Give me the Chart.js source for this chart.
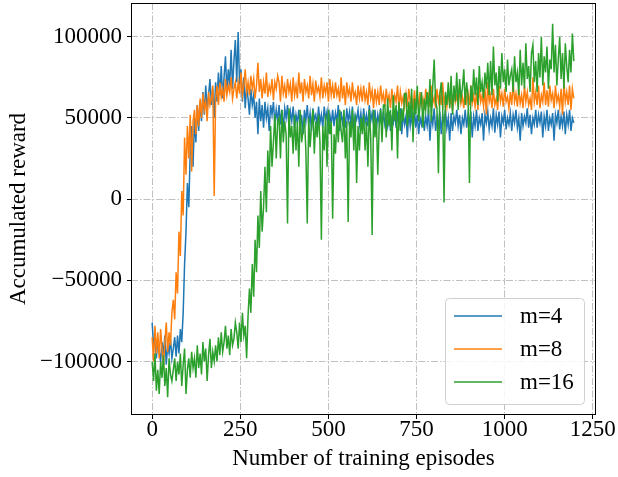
<!DOCTYPE html>
<html>
<head>
<meta charset="utf-8">
<script src="https://cdn.jsdelivr.net/npm/chart.js@4"></script>
<style>
  html, body { margin: 0; padding: 0; background: #fff; }
</style>
</head>
<body>
<canvas id="rewardChart" width="618" height="477"></canvas>
<script>
// Training curves - accumulated reward per episode (in thousands)

// x positions: one reading every 4 episodes
const episodes = Array.from({ length: 300 }, (_, i) => i * 4);

const rewardM4 = [
  -76, -90, -84, -98, -86, -94, -100, -88, -96, -84, -102, -90, -95, -86, -98,
  -92, -85, -97, -84, -95, -80, -88, -70, -40, -20, 10, -5, 30, 45, 20,
  50, 35, 58, 42, 60, 48, 66, 52, 70, 55, 64, 74, 58, 68, 50,
  72, 60, 78, 64, 82, 62, 75, 88, 66, 80, 70, 92, 68, 85, 98,
  72, 103, 70, 80, 60, 75, 56, 70, 62, 52, 68, 58, 64, 50, 60,
  40, 62, 48, 58, 44, 60, 50, 56, 42, 58, 52, 60, 46, 55, 48,
  58, 46, 55, 42, 56, 50, 58, 45, 54, 48, 57, 44, 52, 47, 55,
  44, 52, 40, 55, 48, 58, 46, 53, 42, 56, 49, 52, 45, 57, 47,
  52, 44, 57, 49, 54, 41, 52, 46, 55, 45, 53, 48, 58, 42, 54,
  47, 52, 44, 56, 48, 54, 45, 57, 43, 52, 49, 55, 46, 53, 44,
  56, 47, 52, 45, 58, 48, 53, 46, 55, 43, 52, 47, 56, 44, 54,
  46, 51, 45, 54, 42, 50, 47, 55, 44, 52, 46, 56, 40, 53, 46,
  51, 38, 54, 45, 52, 43, 55, 44, 52, 40, 50, 46, 54, 42, 51,
  45, 55, 36, 52, 46, 56, 42, 50, 45, 54, 40, 52, 47, 55, 44,
  50, 36, 53, 42, 51, 47, 55, 45, 52, 40, 50, 46, 55, 44, 52,
  47, 54, 38, 51, 45, 55, 42, 50, 46, 53, 36, 52, 47, 54, 43,
  50, 45, 56, 41, 52, 46, 54, 38, 51, 47, 55, 43, 50, 46, 53,
  42, 52, 47, 55, 44, 50, 36, 53, 45, 51, 47, 56, 44, 52, 40,
  50, 46, 55, 44, 52, 47, 54, 38, 51, 45, 55, 42, 50, 46, 53,
  36, 52, 47, 55, 43, 51, 45, 54, 40, 52, 46, 55, 42, 50, 47
];

const rewardM8 = [
  -85, -100, -78, -95, -82, -98, -80, -92, -104, -88, -76, -94, -82, -90, -70,
  -62, -74, -45, -58, -20, -35, 5, -10, 38, 15, 45, 25, 52, 17, 48,
  55, 40, 58, 45, 62, 50, 65, 55, 60, 48, 66, 58, 62, 70, 2,
  62, 70, 58, 72, 63, 68, 60, 74, 64, 70, 66, 75, 62, 68, 72,
  62, 72, 65, 78, 64, 70, 80, 66, 72, 64, 76, 68, 74, 62, 70,
  84, 66, 74, 62, 72, 65, 78, 63, 70, 66, 74, 61, 72, 68, 76,
  72, 60, 76, 65, 70, 62, 74, 66, 71, 60, 75, 64, 70, 62, 78,
  65, 72, 60, 74, 66, 70, 62, 76, 64, 71, 60, 73, 66, 69, 63,
  75, 62, 70, 65, 72, 60, 74, 64, 70, 62, 72, 64, 68, 60, 75,
  62, 70, 58, 72, 64, 68, 60, 72, 63, 66, 58, 70, 62, 68, 60,
  70, 61, 66, 58, 72, 62, 67, 56, 68, 60, 66, 58, 70, 61, 65,
  57, 68, 60, 64, 56, 68, 58, 64, 60, 70, 56, 66, 59, 63, 57,
  65, 57, 68, 60, 63, 55, 67, 58, 64, 56, 66, 58, 62, 55, 68,
  60, 64, 57, 70, 59, 63, 56, 68, 60, 65, 58, 72, 59, 64, 57,
  66, 58, 62, 55, 68, 60, 64, 57, 70, 59, 63, 56, 68, 60, 65,
  58, 70, 59, 64, 57, 66, 55, 70, 60, 64, 57, 68, 52, 72, 60,
  64, 56, 68, 58, 62, 55, 70, 60, 65, 57, 68, 60, 63, 56, 66,
  58, 72, 60, 65, 57, 68, 59, 64, 56, 70, 60, 66, 58, 62, 55,
  75, 60, 66, 58, 70, 56, 64, 60, 72, 58, 67, 57, 70, 61, 65,
  56, 70, 60, 64, 57, 68, 52, 72, 60, 66, 58, 70, 55, 68, 62
];

const rewardM16 = [
  -100, -112, -95, -118, -105, -120, -100, -110, -96, -115, -104, -122, -98, -108, -112,
  -105, -98, -112, -100, -108, -95, -115, -102, -92, -120, -105, -98, -110, -94, -104,
  -98, -110, -90, -104, -95, -108, -88, -100, -92, -112, -96, -86, -104, -94, -100,
  -90, -100, -85, -96, -82, -94, -88, -78, -92, -84, -96, -80, -90, -86, -76,
  -82, -92, -76, -88, -70, -84, -78, -98, -72, -55, -70, -40, -60, -25, -45,
  -10, -30, 5, -20, -5, 20, -8, 30, 10, 45, 20, 35, 52, 25, 48,
  50, 25, 55, 35, 48, 40, -15, 56, 38, 45, 28, 52, 30, 48, 20,
  55, 35, 42, 50, 30, -15, 50, 32, 45, 55, 28, 48, 38, 52, 35,
  -25, 45, 30, 52, 20, 55, 40, 48, -12, 40, 28, 50, 35, 55, 42,
  35, 55, 25, 48, -14, 48, 38, 55, 30, 52, 10, 45, 30, 50, 40,
  52, 30, 48, 20, 55, 38, -22, 55, 38, 50, 15, 45, 55, 35, 58,
  58, 38, 62, 45, 55, 30, 64, 48, 58, 25, 60, 42, 56, 48, 65,
  65, 45, 60, 50, 68, 35, 62, 52, 70, 48, 58, 66, 44, 62, 55,
  66, 52, 74, 48, 70, 86, 60, 56, 16, 64, 72, 58, -2, 66, 58,
  72, 56, 76, 52, 70, 60, 78, 55, 74, 62, 68, 80, 58, 72, 64,
  10, 70, 60, 80, 64, 75, 58, 82, 66, 72, 62, 78, 68, 84, 64,
  85, 64, 94, 70, 78, 60, 82, 68, 90, 72, 80, 66, 86, 70, 76,
  80, 66, 88, 72, 78, 64, 92, 70, 84, 68, 96, 74, 82, 66, 90,
  95, 72, 85, 66, 90, 75, 100, 70, 88, 78, 94, 68, 86, 80, 108,
  78, 95, 70, 86, 100, 74, 90, 68, 96, 82, 72, 92, 78, 102, 85
];

const seriesLabels = ['m=4', 'm=8', 'm=16'];
const seriesColors = ['#1f77b4', '#ff7f0e', '#2ca02c'];
const xTicks = [0, 250, 500, 750, 1000, 1250];
const yTicks = [-100000, -50000, 0, 50000, 100000];

const serif = 'Liberation Serif';

function toPoints(values) {
  return values.map((v, i) => ({ x: episodes[i], y: v * 1000 }));
}

function fmtTick(v) {
  return v < 0 ? '\u2212' + Math.abs(v) : String(v);
}

// frame round the plot + legend box in the lower right corner
const frameAndLegend = {
  id: 'frameAndLegend',
  afterDatasetsDraw(chart) {
    const { ctx, chartArea: a } = chart;
    ctx.save();
    ctx.strokeStyle = '#000';
    ctx.lineWidth = 1;
    ctx.strokeRect(a.left + 0.5, a.top + 0.5, a.right - a.left - 1, a.bottom - a.top - 1);

    const bw = 139, bh = 106;
    const bx = a.right - 12 - bw, by = a.bottom - 11 - bh;
    ctx.beginPath();
    ctx.roundRect(bx + 0.5, by + 0.5, bw, bh, 4);
    ctx.fillStyle = 'rgba(255,255,255,0.85)';
    ctx.fill();
    ctx.strokeStyle = '#d0d0d0';
    ctx.stroke();

    ctx.font = '23px "' + serif + '"';
    ctx.textBaseline = 'middle';
    ctx.fillStyle = '#000';
    chart.data.datasets.forEach((ds, i) => {
      const y = by + 18 + i * 33;
      ctx.beginPath();
      ctx.moveTo(bx + 9, y);
      ctx.lineTo(bx + 57, y);
      ctx.strokeStyle = ds.borderColor;
      ctx.lineWidth = 1.5;
      ctx.stroke();
      ctx.fillText(ds.label, bx + 75, y + 1);
    });
    ctx.restore();
  }
};

const gridStyle = {
  color: 'rgba(176,176,176,0.8)',
  lineWidth: 1,
  tickColor: '#000',
  tickLength: 4,
  tickWidth: 1
};

new Chart(document.getElementById('rewardChart'), {
  type: 'line',
  data: {
    datasets: [rewardM4, rewardM8, rewardM16].map((vals, i) => ({
      label: seriesLabels[i],
      data: toPoints(vals),
      borderColor: seriesColors[i],
      backgroundColor: seriesColors[i],
      borderWidth: 1.5,
      pointRadius: 0,
      tension: 0,
      order: 3 - i
    }))
  },
  options: {
    responsive: false,
    animation: false,
    events: [],
    layout: { padding: { left: 0, top: 3, right: 22, bottom: 0 } },
    plugins: { legend: { display: false }, tooltip: { enabled: false } },
    scales: {
      x: {
        type: 'linear',
        min: -60,
        max: 1259,
        afterBuildTicks: s => { s.ticks = xTicks.map(v => ({ value: v })); },
        afterFit: s => { s.height = 62; s.paddingLeft = 0; s.paddingRight = 0; },
        grid: gridStyle,
        border: { display: false, dash: [7, 2, 1.5, 2] },
        ticks: {
          autoSkip: false,
          maxRotation: 0,
          padding: -3,
          color: '#000',
          font: { family: serif, size: 23 },
          callback: v => fmtTick(v)
        },
        title: {
          display: true,
          text: 'Number of training episodes',
          color: '#000',
          font: { family: serif, size: 23 },
          padding: { top: 0, bottom: 4 }
        }
      },
      y: {
        type: 'linear',
        min: -132900,
        max: 120800,
        afterBuildTicks: s => { s.ticks = yTicks.map(v => ({ value: v })); },
        afterFit: s => { s.width = 131; s.paddingTop = 0; s.paddingBottom = 0; },
        grid: gridStyle,
        border: { display: false, dash: [7, 2, 1.5, 2] },
        ticks: {
          autoSkip: false,
          padding: 5,
          color: '#000',
          font: { family: serif, size: 23 },
          callback: v => fmtTick(v)
        },
        title: {
          display: true,
          text: 'Accumulated reward',
          color: '#000',
          font: { family: serif, size: 23 },
          padding: { top: 5, bottom: 0 }
        }
      }
    }
  },
  plugins: [frameAndLegend]
});
</script>
</body>
</html>
